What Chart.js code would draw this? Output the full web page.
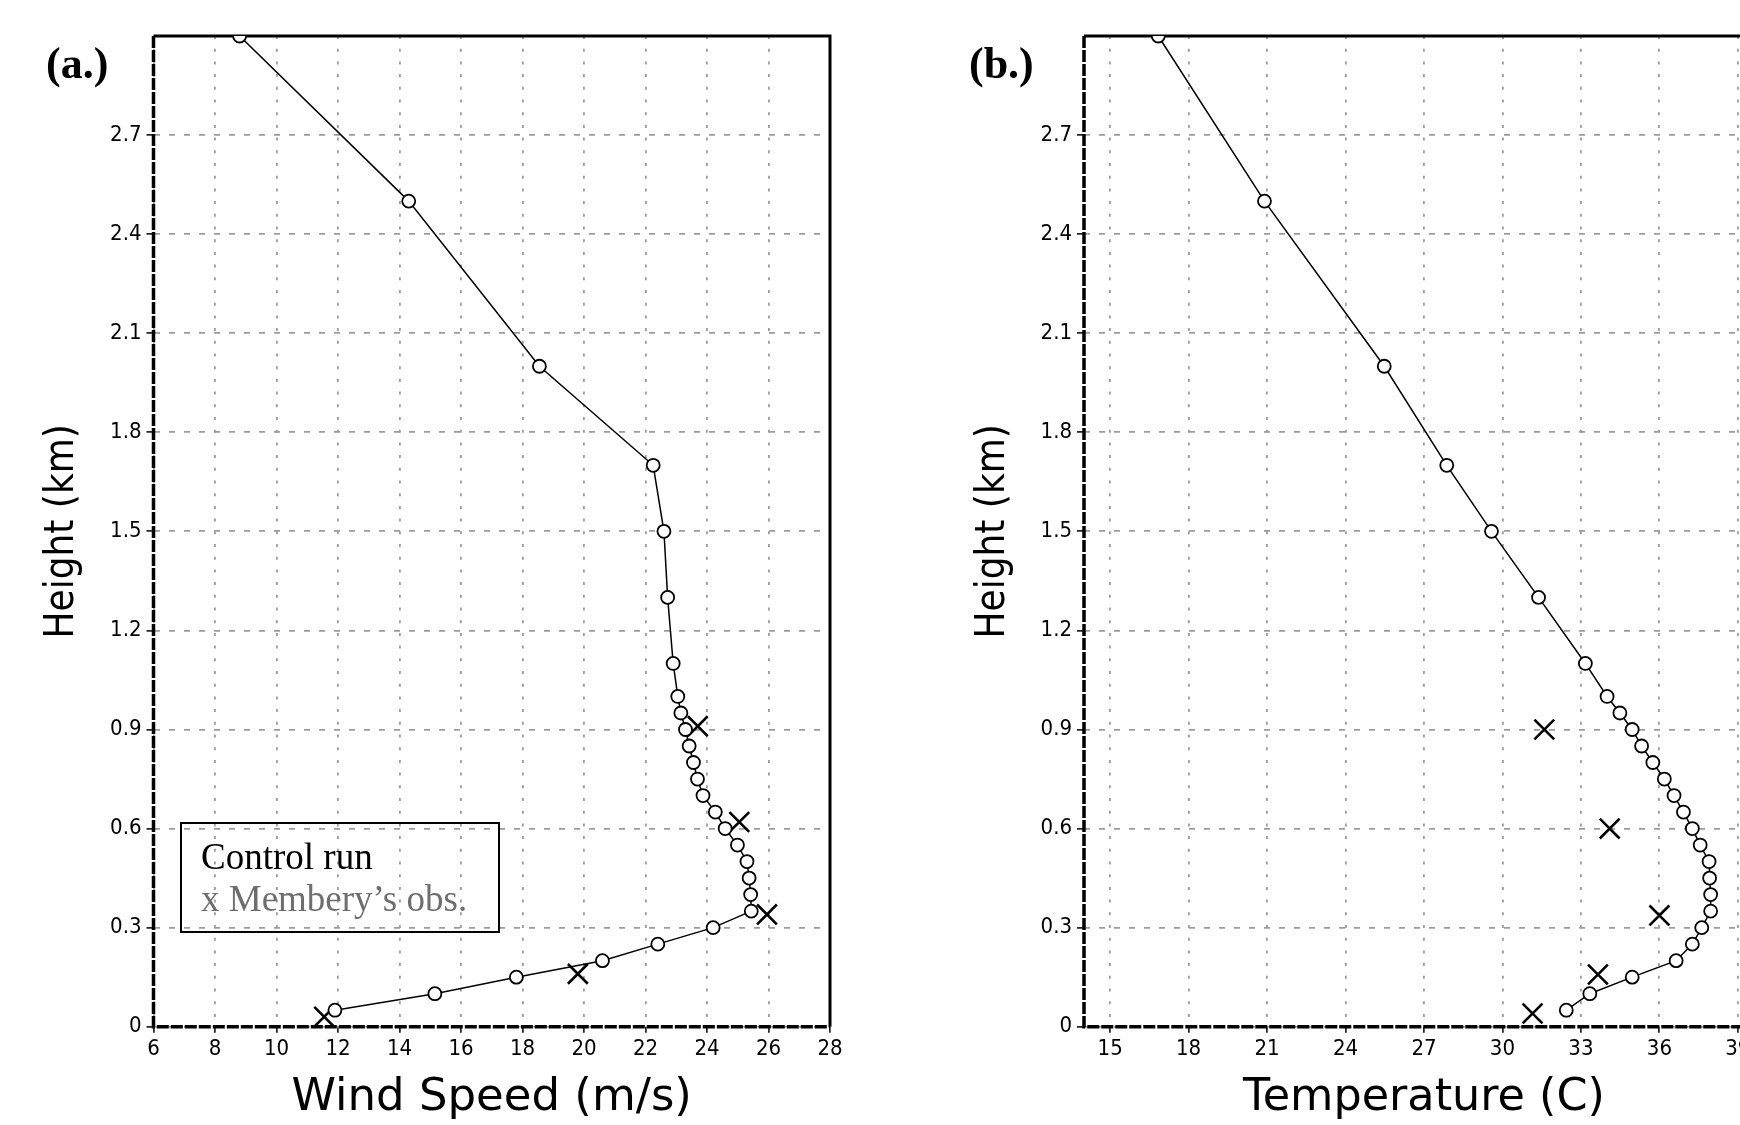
<!DOCTYPE html>
<html>
<head>
<meta charset="utf-8">
<script src="https://cdn.jsdelivr.net/npm/chart.js@4.4.1/dist/chart.umd.min.js"></script>
<style>
  html, body { margin: 0; padding: 0; background: #fff; }
  body { width: 1740px; height: 1125px; overflow: hidden; position: relative; }
  canvas { position: absolute; top: 0; }
  #wind-canvas { left: 0; }
  #temp-canvas { left: 870px; }
  .panel-label { position: absolute; font: bold 44px 'Liberation Serif', 'Times New Roman', serif; line-height: 44px; color: #000; }
  #legend-box { position: absolute; left: 180px; top: 822px; width: 316px; height: 107px; border: 2.5px solid #000; }
  .legend-line { position: absolute; left: 19px; font: 37px 'Liberation Serif', 'Times New Roman', serif; line-height: 40px; white-space: nowrap; }
</style>
</head>
<body>
<canvas id="wind-canvas" width="870" height="1125"></canvas>
<canvas id="temp-canvas" width="940" height="1125"></canvas>
<div class="panel-label" style="left:46px; top:42px;">(a.)</div>
<div class="panel-label" style="left:969px; top:42px;">(b.)</div>
<div id="legend-box">
  <div class="legend-line" style="top:13px; color:#000;">Control run</div>
  <div class="legend-line" style="top:55px; color:#6e6e6e;">x Membery’s obs.</div>
</div>
<script>
// model levels (km) shared by both control-run profiles
var heights = [3.0, 2.5, 2.0, 1.7, 1.5, 1.3, 1.1, 1.0, 0.95, 0.9, 0.85, 0.8, 0.75, 0.7, 0.65,
               0.6, 0.55, 0.5, 0.45, 0.4, 0.35, 0.3, 0.25, 0.2, 0.15, 0.1, 0.05];
var windSpeed = [8.8, 14.3, 18.55, 22.25, 22.6, 22.72, 22.9, 23.05, 23.15, 23.3, 23.42, 23.56, 23.69, 23.87, 24.27,
                 24.59, 24.99, 25.3, 25.37, 25.42, 25.44, 24.2, 22.4, 20.6, 17.8, 15.15, 11.9];
var temperature = [16.84, 20.9, 25.48, 27.87, 29.58, 31.38, 33.17, 34.0, 34.49, 34.96, 35.32, 35.75, 36.19, 36.56, 36.92,
                   37.26, 37.56, 37.9, 37.92, 37.96, 37.96, 37.62, 37.26, 36.64, 34.96, 33.34, 32.44];

// Membery's observations
var windObsHeight = [0.91, 0.62, 0.34, 0.16, 0.03];
var windObsSpeed = [23.7, 25.05, 25.95, 19.8, 11.55];
var tempObsHeight = [0.9, 0.6, 0.337, 0.158, 0.04];
var tempObsValue = [31.6, 34.1, 36.0, 33.65, 31.15];

// axis ticks
var heightTicks = [0, 0.3, 0.6, 0.9, 1.2, 1.5, 1.8, 2.1, 2.4, 2.7];
var windTicks = [6, 8, 10, 12, 14, 16, 18, 20, 22, 24, 26, 28];
var tempTicks = [15, 18, 21, 24, 27, 30, 33, 36, 39];

var tickFont = { family: "'DejaVu Sans Condensed', 'DejaVu Sans', sans-serif", size: 22 };

function toPoints(xs, ys) {
    var pts = [];
    for (var i = 0; i < xs.length; i++) {
        pts.push({ x: xs[i], y: ys[i] });
    }
    return pts;
}

// frame around the plot area, drawn under the markers
var frame = {
    id: 'frame',
    beforeDatasetsDraw: function (chart) {
        var ctx = chart.ctx, a = chart.chartArea;
        ctx.save();
        ctx.strokeStyle = '#000';
        ctx.lineWidth = 3;
        ctx.beginPath();
        ctx.moveTo(a.left, a.top);
        ctx.lineTo(a.right, a.top);
        ctx.lineTo(a.right, a.bottom);
        ctx.stroke();
        ctx.lineWidth = 3.5;
        ctx.setLineDash([12, 2]);
        ctx.beginPath();
        ctx.moveTo(a.left, a.top);
        ctx.lineTo(a.left, a.bottom);
        ctx.lineTo(a.right, a.bottom);
        ctx.stroke();
        ctx.restore();
    }
};

function makeChart(id, opts) {
    var ctx = document.getElementById(id).getContext('2d');
    return new Chart(ctx, {
        type: 'scatter',
        data: {
            datasets: [{
                label: 'Control run',
                data: toPoints(opts.profile, heights),
                showLine: true,
                borderColor: '#000',
                borderWidth: 1.5,
                pointStyle: 'circle',
                pointRadius: 6.5,
                pointBackgroundColor: '#fff',
                pointBorderColor: '#000',
                pointBorderWidth: 1.8
            }, {
                label: "Membery's obs.",
                data: toPoints(opts.obsX, opts.obsY),
                showLine: false,
                pointStyle: 'crossRot',
                pointRadius: 14,
                pointBorderColor: '#000',
                pointBorderWidth: 2.6
            }]
        },
        options: {
            responsive: false,
            animation: false,
            devicePixelRatio: 1,
            layout: { padding: { left: 0, top: 36, right: opts.padRight, bottom: 0 } },
            plugins: { legend: { display: false }, tooltip: { enabled: false } },
            scales: {
                x: {
                    type: 'linear',
                    min: opts.xMin,
                    max: opts.xMax,
                    afterBuildTicks: function (scale) {
                        scale.ticks = opts.xTicks.map(function (v) { return { value: v }; });
                    },
                    afterFit: function (scale) { scale.height = 98.3; },
                    grid: { color: '#9c9c9c', lineWidth: 1.8, tickLength: 6, tickColor: '#000', tickWidth: 1.5 },
                    border: { display: false, dash: [3, 9.7] },
                    ticks: { font: tickFont, color: '#000', padding: 3, maxRotation: 0, autoSkip: false,
                        callback: function (v) { return String(v); } },
                    title: { display: true, text: opts.xTitle, color: '#000',
                        font: { family: "'DejaVu Sans', sans-serif", size: opts.xTitleSize }, padding: { top: 0, bottom: 0 } }
                },
                y: {
                    type: 'linear',
                    min: 0,
                    max: 3.0,
                    afterBuildTicks: function (scale) {
                        scale.ticks = heightTicks.map(function (v) { return { value: v }; });
                    },
                    afterFit: function (scale) { scale.width = opts.yWidth; },
                    grid: { color: '#9c9c9c', lineWidth: 1.8, tickLength: 7, tickColor: '#000', tickWidth: 1.5 },
                    border: { display: false, dash: [6, 9] },
                    ticks: { font: tickFont, color: '#000', padding: 5, autoSkip: false,
                        callback: function (v) { return v === 0 ? '0' : v.toFixed(1); } },
                    title: { display: true, text: 'Height (km)', color: '#000',
                        font: { family: "'DejaVu Sans Condensed', 'DejaVu Sans', sans-serif", size: 40 },
                        padding: { top: opts.yTitlePad, bottom: 0 } }
                }
            }
        },
        plugins: [frame]
    });
}

var windChart = makeChart('wind-canvas', {
    profile: windSpeed, obsX: windObsSpeed, obsY: windObsHeight,
    xMin: 6, xMax: 28, xTicks: windTicks, xTitle: 'Wind Speed (m/s)', xTitleSize: 45,
    yWidth: 153.5, padRight: 40, yTitlePad: 39
});
var tempChart = makeChart('temp-canvas', {
    profile: temperature, obsX: tempObsValue, obsY: tempObsHeight,
    xMin: 14, xMax: 40, xTicks: tempTicks, xTitle: 'Temperature (C)', xTitleSize: 44.5,
    yWidth: 214, padRight: 46, yTitlePad: 100
});
</script>
</body>
</html>
